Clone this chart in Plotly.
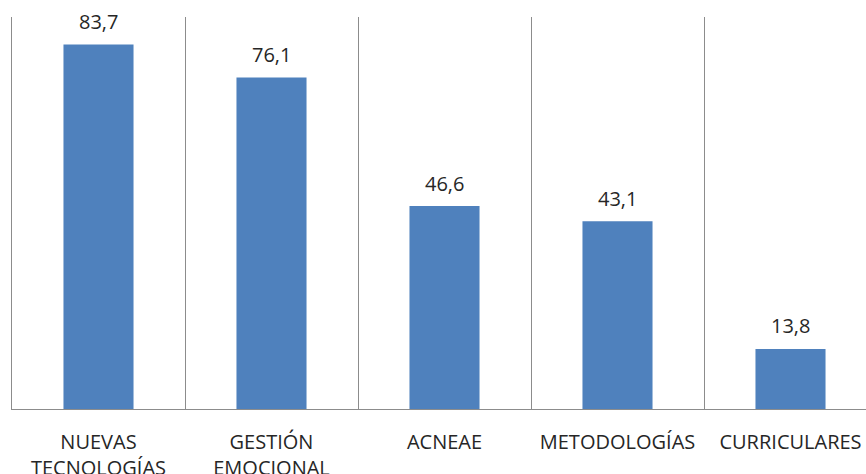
import plotly.graph_objects as go

categories = ["NUEVAS<br>TECNOLOGÍAS", "GESTIÓN<br>EMOCIONAL", "ACNEAE", "METODOLOGÍAS", "CURRICULARES"]
values = [83.7, 76.1, 46.6, 43.1, 13.8]
labels = [f"{v:.1f}".replace(".", ",") for v in values]

fig = go.Figure()
fig.add_trace(go.Bar(
    x=categories, y=values,
    marker=dict(color="#4F81BD", line=dict(width=0)),
    width=0.405,
    hoverinfo="skip",
))
for c, v, t in zip(categories, values, labels):
    fig.add_annotation(x=c, y=v, text=t, showarrow=False, yanchor="middle", yshift=23,
                       font=dict(family="Open Sans", size=20, color="#262626"))

fig.update_layout(
    width=866, height=474,
    margin=dict(l=12, r=0, t=17, b=65),
    plot_bgcolor="white", paper_bgcolor="white",
    showlegend=False,
    xaxis=dict(
        type="category",
        range=[-0.5, -0.5 + 854 / 173],
        showgrid=True, gridcolor="#8c8c8c", gridwidth=1,
        tickson="boundaries",
        showline=True, linecolor="#8c8c8c", linewidth=1,
        ticks="", ticklabelstandoff=15,
        tickfont=dict(family="Open Sans", size=20, color="#262626"),
        automargin=False,
    ),
    yaxis=dict(range=[0, 90], showticklabels=False, ticks="", showgrid=False, zeroline=False,
               showline=True, linecolor="#8c8c8c", linewidth=1, automargin=False),
)

fig.write_html("out.html",
               config={"displayModeBar": False},
               post_script="document.body.style.margin='0';document.body.style.overflow='hidden';")
